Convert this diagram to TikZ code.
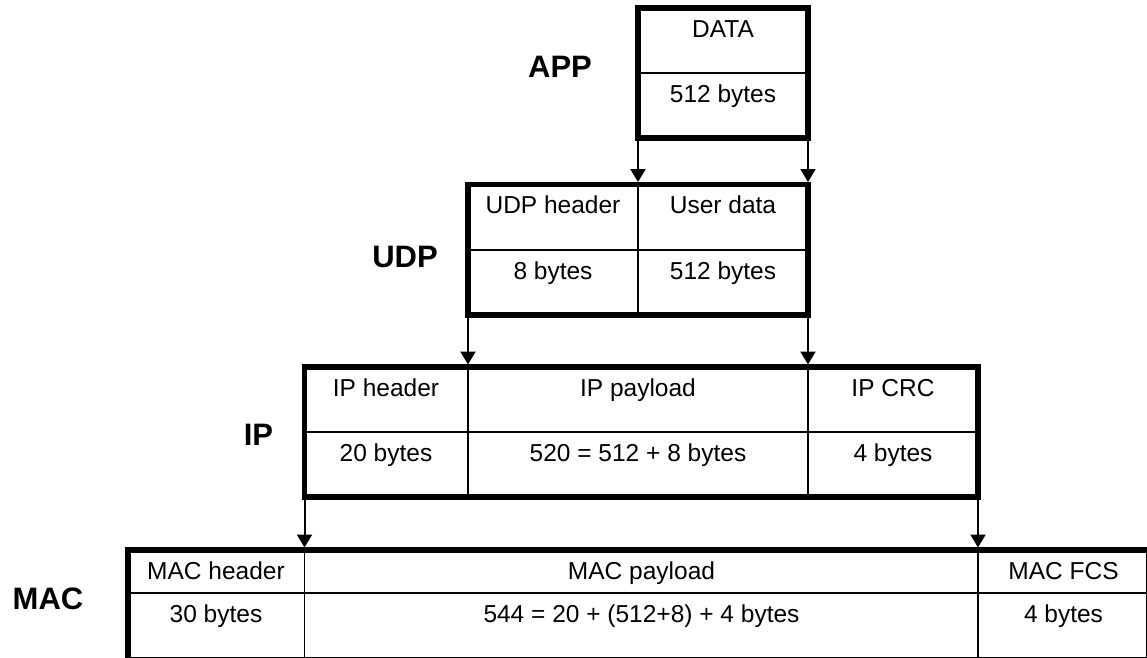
\documentclass[tikz,border=0pt]{standalone}
\usepackage{fontspec}
\setmainfont{Liberation Sans}
\usetikzlibrary{arrows.meta}
\begin{document}
\begin{tikzpicture}[x=1pt,y=-1pt,
  box/.style={draw, line width=5.5pt, inner sep=0pt, outer sep=0pt},
  div/.style={line width=1.8pt},
  txt/.style={font=\fontsize{24.5}{29}\selectfont, anchor=base, inner sep=0pt},
  lbl/.style={font=\fontsize{31}{36}\selectfont\bfseries, anchor=base, inner sep=0pt},
  arr/.style={line width=2pt, -{Triangle[width=15pt,length=13pt]}, shorten >=2.5pt}]
\clip (0,0) rectangle (1147,657);
\fill[white] (0,0) rectangle (1147,657);
% boxes
\node[box, minimum width=170pt, minimum height=130pt] (app) at (723,73) {};
\node[box, minimum width=340pt, minimum height=130.5pt] (udp) at (638,249.75) {};
\node[box, minimum width=673.5pt, minimum height=130pt] (ip) at (641.25,432) {};
\node[box, minimum width=1021pt, minimum height=110pt] (mac) at (638.5,605) {};
% dividers
\draw[div] (app.west) -- (app.east);
\draw[div] (udp.west) -- (udp.east);
\draw[div] (app.south west |- udp.north) -- (app.south west |- udp.south);
\draw[div] (ip.west) -- (ip.east);
\draw[div] (udp.south west |- ip.north) -- (udp.south west |- ip.south);
\draw[div] (udp.south east |- ip.north) -- (udp.south east |- ip.south);
\coordinate (macmid) at (0,593);
\draw[div] (mac.west |- macmid) -- (mac.east |- macmid);
\draw[div] (ip.south west |- mac.north) -- (ip.south west |- mac.south);
\draw[div] (ip.south east |- mac.north) -- (ip.south east |- mac.south);
% arrows
\draw[arr] ([yshift=-3pt]app.south west) -- (app.south west |- udp.north);
\draw[arr] ([yshift=-3pt]app.south east) -- (udp.north east);
\draw[arr] ([yshift=-3pt]udp.south west) -- (udp.south west |- ip.north);
\draw[arr] ([yshift=-3pt]udp.south east) -- (udp.south east |- ip.north);
\draw[arr] ([yshift=-3pt]ip.south west) -- (ip.south west |- mac.north);
\draw[arr] ([yshift=-3pt]ip.south east) -- (ip.south east |- mac.north);
% layer labels
\node[lbl] (lapp) at (560,77) {APP};
\node[lbl] (ludp) at (405,267) {UDP};
\node[lbl] (lip) at (258.5,445) {IP};
\node[lbl] (lmac) at (48,609) {MAC};
% cell texts
\node[txt] (t1) at (723,37) {DATA};
\node[txt] (t2) at (723,102) {512 bytes};
\node[txt] (t3) at (553,213.5) {UDP header};
\node[txt] (t4) at (723,213.5) {User data};
\node[txt] (t5) at (553,279) {8 bytes};
\node[txt] (t6) at (723,279) {512 bytes};
\node[txt] (t7) at (386,396) {IP header};
\node[txt] (t8) at (638,396) {IP payload};
\node[txt] (t9) at (893,396) {IP CRC};
\node[txt] (t10) at (386,461) {20 bytes};
\node[txt] (t11) at (638,461) {520 = 512 + 8 bytes};
\node[txt] (t12) at (893,461) {4 bytes};
\node[txt] (t13) at (216,579) {MAC header};
\node[txt] (t14) at (641.5,579) {MAC payload};
\node[txt] (t15) at (1063.5,579) {MAC FCS};
\node[txt] (t16) at (216,622) {30 bytes};
\node[txt] (t17) at (641.5,622) {544 = 20 + (512+8) + 4 bytes};
\node[txt] (t18) at (1063.5,622) {4 bytes};
\end{tikzpicture}
\end{document}
